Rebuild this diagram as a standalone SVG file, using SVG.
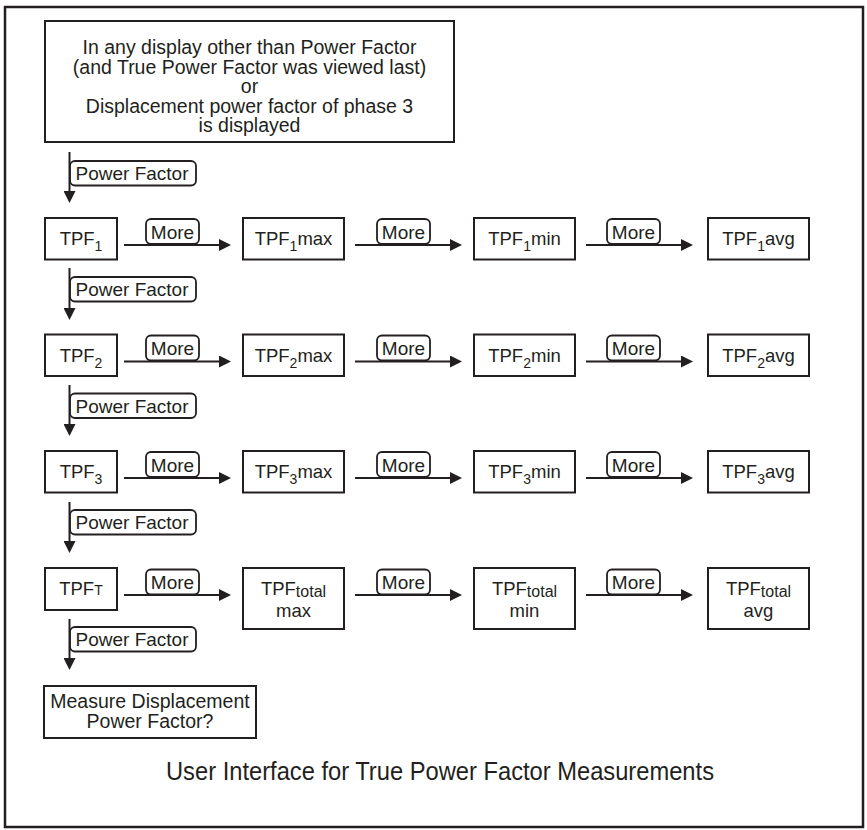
<svg xmlns="http://www.w3.org/2000/svg" width="867" height="830" viewBox="0 0 867 830">
<defs>
<style>
text{font-family:"Liberation Sans",Arial,Helvetica,sans-serif;fill:#231f20}
.frame{fill:none;stroke:#231f20;stroke-width:2.5}
.box{fill:#fff;stroke:#231f20;stroke-width:2}
.lbl{fill:#fff;stroke:#231f20;stroke-width:1.8}
.cn{stroke:#231f20;stroke-width:2;fill:none}
.h{marker-end:url(#ah)}
.t{font-size:19.5px;text-anchor:middle}
.n{font-size:18.5px;text-anchor:middle}
.l{font-size:19px;text-anchor:middle}
.s{font-size:14px}
.tt{font-size:16px}
</style>
<marker id="ah" markerWidth="13" markerHeight="12" refX="8" refY="6" orient="auto" markerUnits="userSpaceOnUse">
<path d="M0,0 L12,6 L0,12 z" fill="#231f20"/>
</marker>
</defs>
<rect x="0" y="0" width="867" height="830" fill="#fff"/>
<rect class="frame" x="5" y="7" width="858" height="820"/>

<g id="start">
<rect class="box" x="45" y="21" width="409" height="121"/>
<text class="t" x="249.5" y="54">In any display other than Power Factor</text>
<text class="t" x="249.5" y="73.5">(and True Power Factor was viewed last)</text>
<text class="t" x="249.5" y="93">or</text>
<text class="t" x="249.5" y="112.5">Displacement power factor of phase 3</text>
<text class="t" x="249.5" y="132">is displayed</text>
</g>

<g id="tpf1"><rect class="box" x="45" y="218" width="72" height="41.5"/><text class="n" x="81" y="245">TPF<tspan class="s" dy="6">1</tspan></text></g>
<g id="tpf1max"><rect class="box" x="243" y="218" width="101" height="41.5"/><text class="n" x="293.5" y="245">TPF<tspan class="s" dy="6">1</tspan><tspan dy="-6">max</tspan></text></g>
<g id="tpf1min"><rect class="box" x="474" y="218" width="101" height="41.5"/><text class="n" x="524.5" y="245">TPF<tspan class="s" dy="6">1</tspan><tspan dy="-6">min</tspan></text></g>
<g id="tpf1avg"><rect class="box" x="708" y="218" width="101" height="41.5"/><text class="n" x="758.5" y="245">TPF<tspan class="s" dy="6">1</tspan><tspan dy="-6">avg</tspan></text></g>

<g id="tpf2"><rect class="box" x="45" y="334.5" width="72" height="41.5"/><text class="n" x="81" y="361.5">TPF<tspan class="s" dy="6">2</tspan></text></g>
<g id="tpf2max"><rect class="box" x="243" y="334.5" width="101" height="41.5"/><text class="n" x="293.5" y="361.5">TPF<tspan class="s" dy="6">2</tspan><tspan dy="-6">max</tspan></text></g>
<g id="tpf2min"><rect class="box" x="474" y="334.5" width="101" height="41.5"/><text class="n" x="524.5" y="361.5">TPF<tspan class="s" dy="6">2</tspan><tspan dy="-6">min</tspan></text></g>
<g id="tpf2avg"><rect class="box" x="708" y="334.5" width="101" height="41.5"/><text class="n" x="758.5" y="361.5">TPF<tspan class="s" dy="6">2</tspan><tspan dy="-6">avg</tspan></text></g>

<g id="tpf3"><rect class="box" x="45" y="451" width="72" height="41.5"/><text class="n" x="81" y="478">TPF<tspan class="s" dy="6">3</tspan></text></g>
<g id="tpf3max"><rect class="box" x="243" y="451" width="101" height="41.5"/><text class="n" x="293.5" y="478">TPF<tspan class="s" dy="6">3</tspan><tspan dy="-6">max</tspan></text></g>
<g id="tpf3min"><rect class="box" x="474" y="451" width="101" height="41.5"/><text class="n" x="524.5" y="478">TPF<tspan class="s" dy="6">3</tspan><tspan dy="-6">min</tspan></text></g>
<g id="tpf3avg"><rect class="box" x="708" y="451" width="101" height="41.5"/><text class="n" x="758.5" y="478">TPF<tspan class="s" dy="6">3</tspan><tspan dy="-6">avg</tspan></text></g>

<g id="tpft"><rect class="box" x="45" y="568" width="72" height="42"/><text class="n" x="81" y="595">TPF<tspan class="s">T</tspan></text></g>
<g id="tpftmax"><rect class="box" x="243" y="568" width="101" height="61"/><text class="n" x="293.5" y="595">TPF<tspan class="tt" dy="1.5">total</tspan></text><text class="n" x="293.5" y="617">max</text></g>
<g id="tpftmin"><rect class="box" x="474" y="568" width="101" height="61"/><text class="n" x="524.5" y="595">TPF<tspan class="tt" dy="1.5">total</tspan></text><text class="n" x="524.5" y="617">min</text></g>
<g id="tpftavg"><rect class="box" x="708" y="568" width="101" height="61"/><text class="n" x="758.5" y="595">TPF<tspan class="tt" dy="1.5">total</tspan></text><text class="n" x="758.5" y="617">avg</text></g>

<g id="measure"><rect class="box" x="44" y="686" width="212" height="52"/><text class="t" x="150" y="708">Measure Displacement</text><text class="t" x="150" y="728">Power Factor?</text></g>

<g id="connectors">
<g id="pf-labels">
<rect class="lbl" x="70" y="161" width="126" height="24.5" rx="5"/>
<rect class="lbl" x="70" y="277" width="126" height="24.5" rx="5"/>
<rect class="lbl" x="70" y="393.5" width="126" height="24.5" rx="5"/>
<rect class="lbl" x="70" y="510" width="126" height="24.5" rx="5"/>
<rect class="lbl" x="70" y="627" width="126" height="24.5" rx="5"/>
</g>
<path class="cn h" d="M69.5,152 V199"/>
<path class="cn h" d="M69.5,268 V316"/>
<path class="cn h" d="M69.5,385 V432"/>
<path class="cn h" d="M69.5,502 V549"/>
<path class="cn h" d="M69.5,619 V666"/>
<text class="l" x="132" y="180">Power Factor</text>
<text class="l" x="132" y="296">Power Factor</text>
<text class="l" x="132" y="412.5">Power Factor</text>
<text class="l" x="132" y="529">Power Factor</text>
<text class="l" x="132" y="646">Power Factor</text>

<path class="cn h" d="M124,245 H227"/>
<path class="cn h" d="M355,245 H458"/>
<path class="cn h" d="M586,245 H689"/>
<path class="cn h" d="M124,361.5 H227"/>
<path class="cn h" d="M355,361.5 H458"/>
<path class="cn h" d="M586,361.5 H689"/>
<path class="cn h" d="M124,478 H227"/>
<path class="cn h" d="M355,478 H458"/>
<path class="cn h" d="M586,478 H689"/>
<path class="cn h" d="M124,595 H227"/>
<path class="cn h" d="M355,595 H458"/>
<path class="cn h" d="M586,595 H689"/>

<g id="more-labels">
<rect class="lbl" x="146" y="219" width="53" height="25" rx="5"/>
<rect class="lbl" x="377" y="219" width="53" height="25" rx="5"/>
<rect class="lbl" x="607" y="219" width="53" height="25" rx="5"/>
<rect class="lbl" x="146" y="335.5" width="53" height="25" rx="5"/>
<rect class="lbl" x="377" y="335.5" width="53" height="25" rx="5"/>
<rect class="lbl" x="607" y="335.5" width="53" height="25" rx="5"/>
<rect class="lbl" x="146" y="452" width="53" height="25" rx="5"/>
<rect class="lbl" x="377" y="452" width="53" height="25" rx="5"/>
<rect class="lbl" x="607" y="452" width="53" height="25" rx="5"/>
<rect class="lbl" x="146" y="569.5" width="53" height="25" rx="5"/>
<rect class="lbl" x="377" y="569.5" width="53" height="25" rx="5"/>
<rect class="lbl" x="607" y="569.5" width="53" height="25" rx="5"/>
</g>
<text class="l" x="172.5" y="238.5">More</text>
<text class="l" x="403.5" y="238.5">More</text>
<text class="l" x="633.5" y="238.5">More</text>
<text class="l" x="172.5" y="355">More</text>
<text class="l" x="403.5" y="355">More</text>
<text class="l" x="633.5" y="355">More</text>
<text class="l" x="172.5" y="471.5">More</text>
<text class="l" x="403.5" y="471.5">More</text>
<text class="l" x="633.5" y="471.5">More</text>
<text class="l" x="172.5" y="589">More</text>
<text class="l" x="403.5" y="589">More</text>
<text class="l" x="633.5" y="589">More</text>
</g>

<text x="440" y="780" textLength="548" lengthAdjust="spacingAndGlyphs" style="font-size:25px;text-anchor:middle">User Interface for True Power Factor Measurements</text>
</svg>
